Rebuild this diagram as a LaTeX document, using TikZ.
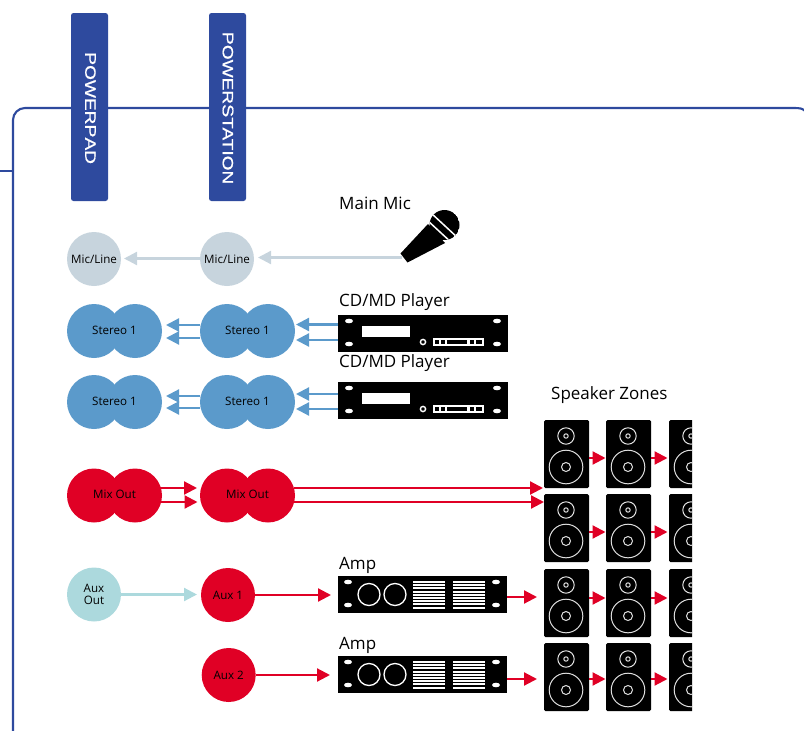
\documentclass[tikz,border=0pt]{standalone}
\usepackage{fontspec}
\setmainfont{Open Sans}
\newfontfamily\widefont[FakeStretch=1.27,FakeBold=0.8]{Liberation Sans}
\usetikzlibrary{arrows.meta}
\definecolor{navy}{HTML}{2E4A9E}
\definecolor{micgrey}{HTML}{C7D4DD}
\definecolor{stereoblue}{HTML}{5B9ACB}
\definecolor{mixred}{HTML}{E00025}
\definecolor{auxteal}{HTML}{ACD9DD}
\newcommand{\bannercap}[1]{{\fontsize{15.5}{15.5}\selectfont #1}}
\tikzset{
  x=1pt,y=-1pt,
  frameline/.style={draw=navy,line width=2.1pt},
  banner/.style={fill=navy,draw=none,rounded corners=2.5pt},
  bannertext/.style={text=white,rotate=-90,font=\widefont\fontsize{15}{15}\selectfont,inner sep=0pt},
  port/.style={circle,minimum size=54pt,inner sep=0pt,draw=none,font=\fontsize{11.6}{12.6}\selectfont,align=center},
  lobe/.style={circle,minimum size=54pt,inner sep=0pt,draw=none},
  portlabel/.style={inner sep=0pt,font=\fontsize{11.6}{12.6}\selectfont},
  caption/.style={anchor=base west,inner sep=0pt,font=\fontsize{17}{18}\selectfont},
  wire/.style={line width=2.2pt,-{Triangle[length=13pt,width=13pt]}},
  wgrey/.style={wire,draw=micgrey,fill=micgrey},
  wblue/.style={wire,draw=stereoblue,fill=stereoblue},
  wred/.style={wire,draw=mixred,fill=mixred},
  wteal/.style={wire,draw=auxteal,fill=auxteal},
  unit/.style={fill=black,draw=none},
  speakerbox/.style={fill=black,draw=none,rounded corners=1.5pt},
  ring/.style={draw=white!88!black,line width=1pt,fill=none},
  hole/.style={fill=white,draw=none},
}
\newcommand{\twin}[5]{% name, x, y, colour, text
  \node[lobe,fill=#4] at (#2,#3) {};
  \node[lobe,fill=#4] at ({#2+41},#3) {};
  \node[portlabel] (#1) at ({#2+20.5},#3-1) {#5};
}
\newcommand{\player}[2]{%
  \begin{scope}[shift={(#1,#2)}]
    \fill[unit] (0,0) rectangle (170,37);
    \fill[hole] (11,6) ellipse (4 and 2.3);
    \fill[hole] (11,29) ellipse (4 and 2.3);
    \fill[hole] (159,6) ellipse (4 and 2.3);
    \fill[hole] (159,29) ellipse (4 and 2.3);
    \fill[hole] (24,11) rectangle (72,22);
    \draw[white,line width=1.4pt] (85,27) circle (2.6);
    \fill[hole] (95,23) rectangle (146,31);
    \fill[black] (97,25) rectangle (101,29);
    \fill[black] (103,25) rectangle (107,29);
    \fill[black] (109,25) rectangle (129,29);
    \fill[black] (132,25) rectangle (136,29);
    \fill[black] (138,25) rectangle (144,29);
  \end{scope}
}
\newcommand{\amp}[2]{%
  \begin{scope}[shift={(#1,#2)}]
    \fill[unit] (0,0) rectangle (169,37);
    \fill[hole] (10,6) ellipse (4 and 2.3);
    \fill[hole] (10,29) ellipse (4 and 2.3);
    \fill[hole] (158,6) ellipse (4 and 2.3);
    \fill[hole] (158,29) ellipse (4 and 2.3);
    \draw[white,line width=1.3pt] (31,18.5) circle (11);
    \draw[white,line width=1.3pt] (57,18.5) circle (11);
    \foreach \gx in {75,115}{
      \foreach \k in {0,...,8}{
        \fill[white] (\gx,{5+\k*3.2}) rectangle ({\gx+31.5},{6.9+\k*3.2});
      }
    }
  \end{scope}
}
\newcommand{\speaker}[2]{%
  \begin{scope}[shift={(#1,#2)}]
    \fill[speakerbox] (0,0) rectangle (45,68);
    \draw[ring] (22,16) circle (8.2);
    \draw[ring] (22,16) circle (2.2);
    \draw[ring] (22,47) circle (16.8);
    \draw[ring] (22,47) circle (4.5);
  \end{scope}
}
\begin{document}
\begin{tikzpicture}
\useasboundingbox (0,0) rectangle (804,731);
% frame
\coordinate (frameTR) at (806,113);
\coordinate (frameBL) at (13,733);
\coordinate (stubL) at (0,171);
\coordinate (stubR) at (13,171);
\draw[frameline] (frameBL) -- (13,120) arc[start angle=180,end angle=90,x radius=12,y radius=-12] -- (794,108) to[out=0,in=105] (frameTR);
\draw[frameline] (stubL) -- (stubR);
% banners
\fill[banner] (71,13) rectangle (108,201);
\fill[banner] (209,13) rectangle (246,201);
\node[bannertext] (bpad) at (90.5,108) {\bannercap{P}OWER\bannercap{P}AD};
\node[bannertext] (bstation) at (228,108) {\bannercap{P}OWER\bannercap{S}TATION};
% ports
\node[port,fill=micgrey] (ml1) at (94,259) {Mic/Line};
\node[port,fill=micgrey] (ml2) at (227,259) {Mic/Line};
\twin{st1a}{94}{331}{stereoblue}{Stereo 1}
\twin{st1b}{227}{331}{stereoblue}{Stereo 1}
\twin{st2a}{94}{402}{stereoblue}{Stereo 1}
\twin{st2b}{227}{402}{stereoblue}{Stereo 1}
\twin{mixa}{94}{495.5}{mixred}{Mix Out}
\twin{mixb}{227}{495.5}{mixred}{Mix Out}
\node[port,fill=auxteal] (auxo) at (94,594.5) {Aux\\Out};
\node[port,fill=mixred] (aux1) at (228,595) {Aux 1};
\node[port,fill=mixred] (aux2) at (228.7,675) {Aux 2};
% captions
\node[caption] (cmic) at (339,209) {Main Mic};
\node[caption] (ccd1) at (339,306) {CD/MD Player};
\node[caption] (ccd2) at (339,367) {CD/MD Player};
\node[caption] (cspk) at (551,399) {Speaker Zones};
\node[caption] (camp1) at (339,569) {Amp};
\node[caption] (camp2) at (339,649) {Amp};
% microphone
\coordinate (micjack) at (402,257.5);
\fill[black] (400.5,253.5) -- (428,224) -- (445,243) -- (407.5,262.5) -- cycle;
\begin{scope}
  \clip (444.5,225) circle (15);
  \fill[black] (444.5,225) circle (15);
  \draw[white,line width=1.5pt] (431,213) -- (458,238);
  \draw[white,line width=1.5pt] (427,220) -- (453,244);
\end{scope}
% equipment
\player{338}{315}
\player{338}{382}
\amp{338}{576}
\amp{338}{656}
\foreach \ry in {420,494,569,643}{
  \speaker{544}{\ry}
  \speaker{606}{\ry}
  \begin{scope}
    \clip (660,\ry-2) rectangle (692,\ry+70);
    \speaker{669}{\ry}
  \end{scope}
}
% named connector ends
\coordinate (pl1a) at (338,324.5);
\coordinate (pl1b) at (338,340);
\coordinate (pl2a) at (338,394);
\coordinate (pl2b) at (338,409);
\coordinate (a1o) at (507,597);
\coordinate (a1i) at (331,595);
\coordinate (a2o) at (507,679);
\coordinate (a2i) at (330,675);
% connectors
\draw[wgrey] (micjack) -- (258,257.5);
\draw[wgrey] (ml2) ++(-26,-0.5) -- (124,258.5);
\draw[wblue] (pl1a) -- (296,324.5);
\draw[wblue] (pl1b) -- (296,340);
\draw[wblue] (pl2a) -- (296,394);
\draw[wblue] (pl2b) -- (296,409);
\draw[wblue] (200,325) -- (166,325);
\draw[wblue] (200,338) -- (166,338);
\draw[wblue] (200,396) -- (166,396);
\draw[wblue] (200,408) -- (166,408);
\draw[wred] (160,488) -- (197,488);
\draw[wred] (160,502) -- (197.5,502);
\draw[wred] (294,488) -- (543,488);
\draw[wred] (294,502) -- (544,502);
\draw[wteal] (auxo.east) -- (197,594.5);
\draw[wred] (aux1.east) -- (a1i);
\draw[wred] (aux2.east) -- (a2i);
\draw[wred] (a1o) -- (537,597);
\draw[wred] (a2o) -- (537,679);
\foreach \ay in {458,532,598,679}{
  \draw[wred] (589,\ay) -- (605.5,\ay);
  \draw[wred] (651,\ay) -- (667.5,\ay);
}
\end{tikzpicture}
\end{document}
